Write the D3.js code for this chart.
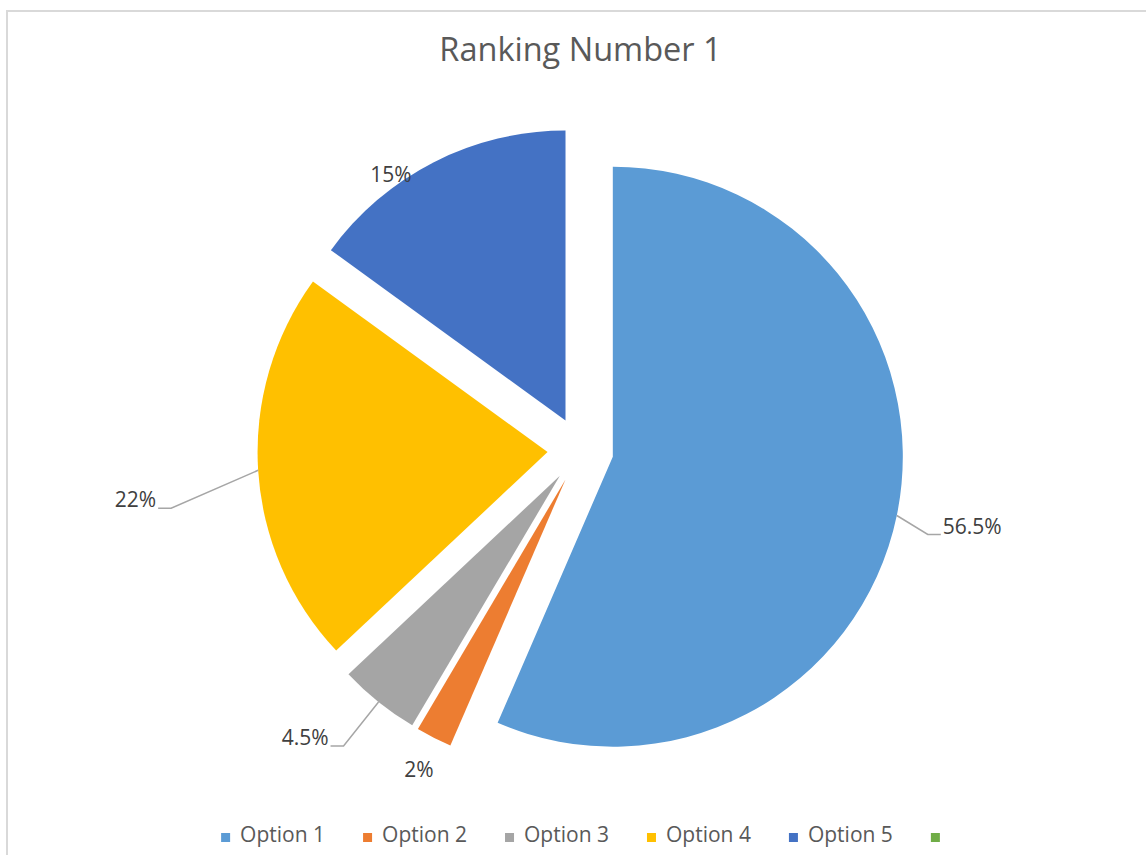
<!DOCTYPE html>
<html>
<head>
<meta charset="utf-8">
<script src="https://cdn.jsdelivr.net/npm/d3@7"></script>
<style>
  body { margin: 0; background: #fff; }
  svg { display: block; font-family: "Open Sans", sans-serif; }
</style>
</head>
<body>
<svg id="chart"></svg>
<script>
const categories = ['Option 1', 'Option 2', 'Option 3', 'Option 4', 'Option 5', ''];
const values = [56.5, 2, 4.5, 22, 15, 0];
const valueLabels = ['56.5%', '2%', '4.5%', '22%', '15%', ''];
const colors = ['#5b9bd5', '#ed7d31', '#a5a5a5', '#ffc000', '#4472c4', '#70ad47'];

// where each data label sits, measured from the slice's outer edge point
const labelLayout = [
    { dx: 46, dy: 18, anchor: 'start', leader: true },
    { dx: -15, dy: 39, anchor: 'middle', leader: false },
    { dx: -50, dy: 43, anchor: 'end', leader: true },
    { dx: -102, dy: 37, anchor: 'end', leader: true },
    { dx: -43, dy: 20, anchor: 'middle', leader: false },
    null
];

const width = 1146;
const height = 855;
const cx = 580.5;
const cy = 450;
const radius = 290;
const explode = 33;

const svg = d3.select('#chart')
    .attr('width', width)
    .attr('height', height);

// chart frame
svg.append('rect')
    .attr('x', 7)
    .attr('y', 11)
    .attr('width', 1148)
    .attr('height', 860)
    .attr('fill', '#fff')
    .attr('stroke', '#d9d9d9')
    .attr('stroke-width', 2);

svg.append('text')
    .attr('x', cx)
    .attr('y', 61)
    .attr('text-anchor', 'middle')
    .attr('fill', '#595959')
    .style('font-size', '32.5px')
    .text('Ranking Number 1');

const color = d3.scaleOrdinal()
    .domain(categories)
    .range(colors);

const pie = d3.pie()
    .value(d => d.value)
    .sort(null);

const data = pie(categories.map((c, i) => ({ name: c, value: values[i], label: valueLabels[i], layout: labelLayout[i] })));

const arc = d3.arc()
    .innerRadius(0)
    .outerRadius(radius);

const mid = d => (d.startAngle + d.endAngle) / 2;
const dir = d => [Math.sin(mid(d)), -Math.cos(mid(d))];

const g = svg.append('g')
    .attr('transform', `translate(${cx},${cy})`);

g.selectAll('path')
    .data(data.filter(d => d.value > 0))
    .enter()
    .append('path')
    .attr('d', arc)
    .attr('fill', d => color(d.data.name))
    .attr('transform', d => {
        const [ux, uy] = dir(d);
        return `translate(${ux * explode},${uy * explode})`;
    });

// data labels
const labelled = data.filter(d => d.value > 0 && d.data.layout);

labelled.forEach(d => {
    const [ux, uy] = dir(d);
    const ex = ux * (radius + explode);
    const ey = uy * (radius + explode);
    const L = d.data.layout;
    const tx = ex + L.dx;
    const ty = ey + L.dy;

    if (L.leader) {
        const s = L.anchor === 'end' ? 1 : -1;
        g.append('polyline')
            .attr('points', [[ex, ey], [tx + s * 15, ty + 1], [tx + s * 2, ty + 1]].map(p => p.join(',')).join(' '))
            .attr('fill', 'none')
            .attr('stroke', '#a6a6a6')
            .attr('stroke-width', 1.5);
    }

    g.append('text')
        .attr('x', tx)
        .attr('y', ty)
        .attr('text-anchor', L.anchor)
        .attr('fill', '#404040')
        .style('font-size', '21px')
        .text(d.data.label);
});

// legend
const legend = svg.append('g');
let x = 0;
categories.forEach((c, i) => {
    const item = legend.append('g').attr('transform', `translate(${x},0)`);
    item.append('rect')
        .attr('x', 0)
        .attr('y', -9)
        .attr('width', 9)
        .attr('height', 9)
        .attr('fill', color(c));
    const t = item.append('text')
        .attr('x', 19)
        .attr('y', 0)
        .attr('fill', '#595959')
        .style('font-size', '21px')
        .text(c);
    const w = c ? t.node().getComputedTextLength() : 0;
    x += 9 + (c ? 10 + w + 38 : 0);
});
const legendW = x;
legend.attr('transform', `translate(${cx - legendW / 2},842)`);
</script>
</body>
</html>
